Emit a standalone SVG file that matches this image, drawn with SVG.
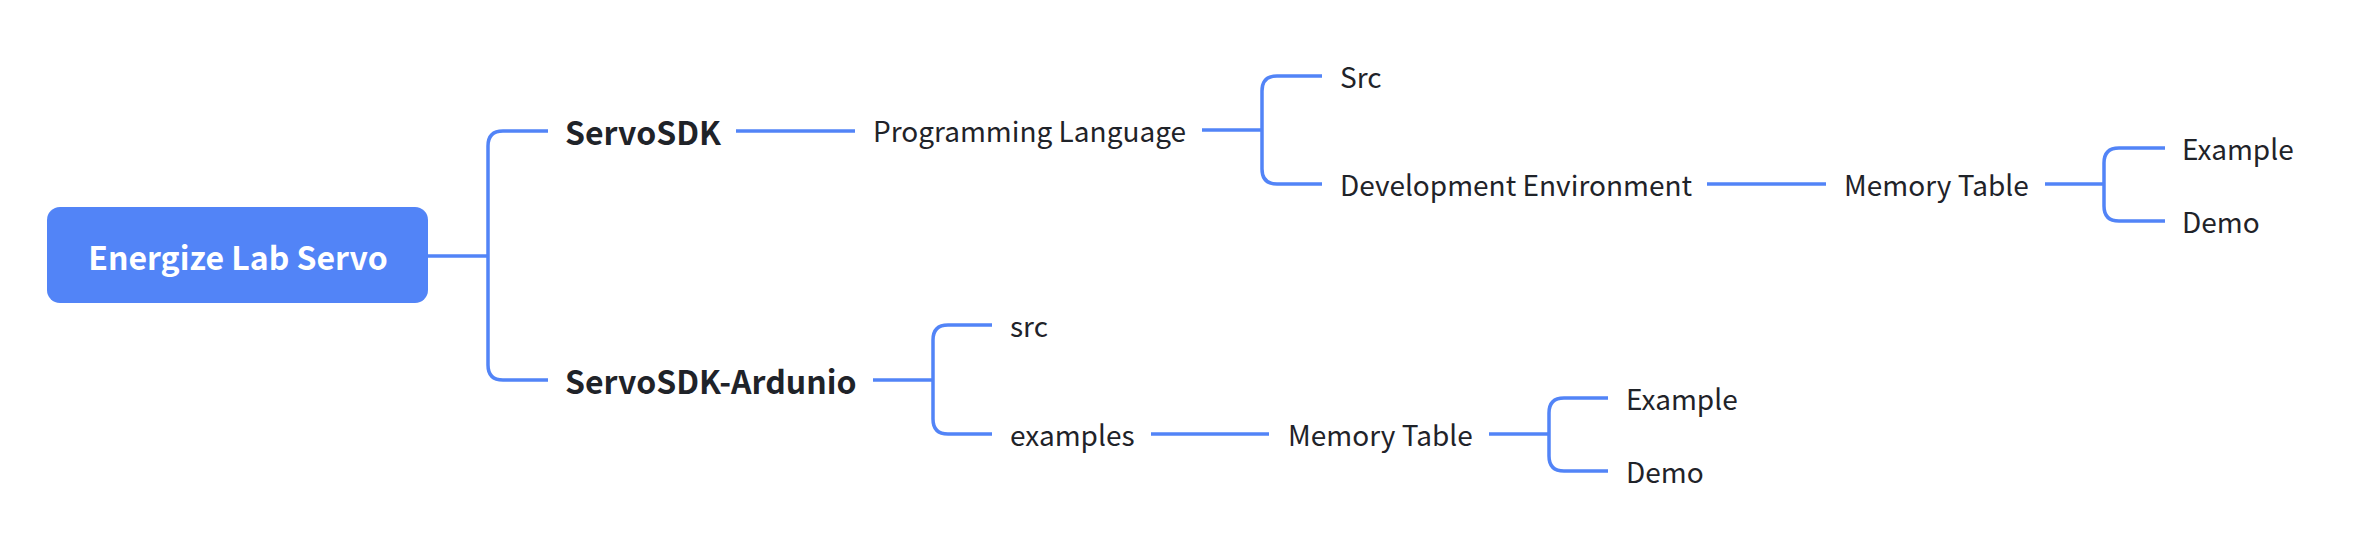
<svg xmlns="http://www.w3.org/2000/svg" width="2358" height="548" viewBox="0 0 2358 548">
<style>
.bg{fill:#ffffff}
.ln{fill:none;stroke:#5284F7;stroke-width:3.5;stroke-linecap:butt}
.t{font-family:"Noto Sans CJK SC","Noto Sans",sans-serif;font-size:28px;fill:#1F2329}
.b{font-family:"Noto Sans CJK SC","Noto Sans",sans-serif;font-size:32px;font-weight:bold;fill:#1F2329}
.rt{font-family:"Noto Sans CJK SC","Noto Sans",sans-serif;font-size:32px;font-weight:bold;fill:#ffffff}
</style>
<rect class="bg" x="0" y="0" width="2358" height="548"/>
<g id="connectors">
<path class="ln" d="M427 256 H488"/>
<path class="ln" d="M548 131 H503 Q488 131 488 146 V365 Q488 380 503 380 H548"/>
<path class="ln" d="M736 131 H855"/>
<path class="ln" d="M1202 130 H1262"/>
<path class="ln" d="M1322 76 H1277 Q1262 76 1262 91 V169 Q1262 184 1277 184 H1322"/>
<path class="ln" d="M1707 184 H1826"/>
<path class="ln" d="M2045 184 H2104"/>
<path class="ln" d="M2165 148 H2119 Q2104 148 2104 163 V206 Q2104 221 2119 221 H2165"/>
<path class="ln" d="M873 380 H933"/>
<path class="ln" d="M992 325 H948 Q933 325 933 340 V419 Q933 434 948 434 H992"/>
<path class="ln" d="M1151 434 H1269"/>
<path class="ln" d="M1489 434 H1549"/>
<path class="ln" d="M1608 398 H1564 Q1549 398 1549 413 V456 Q1549 471 1564 471 H1608"/>
</g>
<g id="root">
<rect x="47" y="207" width="381" height="96" rx="13" fill="#5284F7"/>
<text class="rt" x="238" y="270" text-anchor="middle">Energize Lab Servo</text>
</g>
<g id="n-servosdk"><text class="b" x="565" y="145">ServoSDK</text></g>
<g id="n-proglang"><text class="t" x="873" y="142">Programming Language</text></g>
<g id="n-src1"><text class="t" x="1340" y="88">Src</text></g>
<g id="n-devenv"><text class="t" x="1340" y="196">Development Environment</text></g>
<g id="n-memtable1"><text class="t" x="1844" y="196">Memory Table</text></g>
<g id="n-example1"><text class="t" x="2182" y="160">Example</text></g>
<g id="n-demo1"><text class="t" x="2182" y="233">Demo</text></g>
<g id="n-ardunio"><text class="b" x="565" y="394">ServoSDK-Ardunio</text></g>
<g id="n-src2"><text class="t" x="1010" y="337">src</text></g>
<g id="n-examples"><text class="t" x="1010" y="446">examples</text></g>
<g id="n-memtable2"><text class="t" x="1288" y="446">Memory Table</text></g>
<g id="n-example2"><text class="t" x="1626" y="410">Example</text></g>
<g id="n-demo2"><text class="t" x="1626" y="483">Demo</text></g>
</svg>
